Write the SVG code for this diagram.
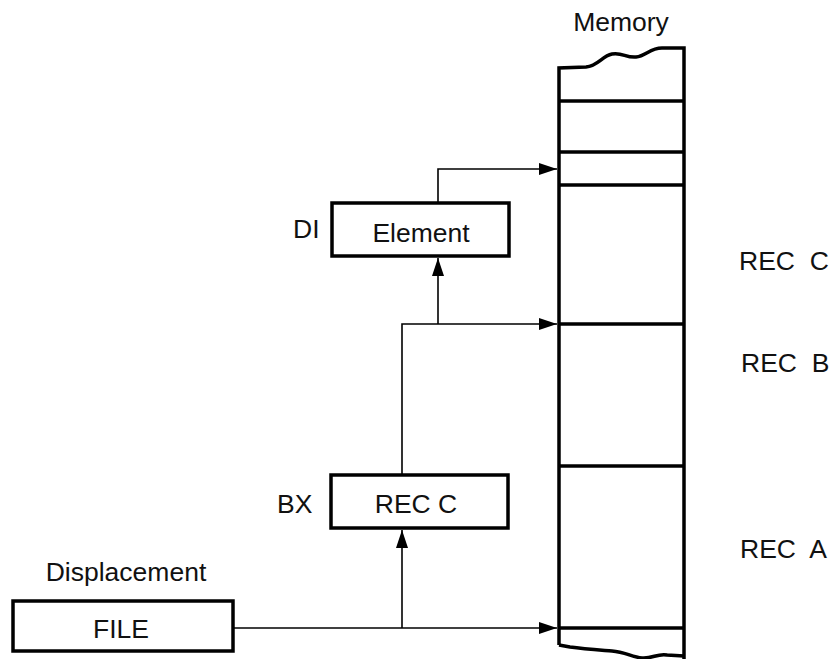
<svg xmlns="http://www.w3.org/2000/svg" width="836" height="659" viewBox="0 0 836 659">
<style>
text{font-family:"Liberation Sans",Arial,sans-serif;font-size:26.5px;fill:#111}
.pre{white-space:pre}
.box{fill:#fff;stroke:#000;stroke-width:3.5}
.mem{fill:none;stroke:#000;stroke-width:3.5}
.conn{fill:none;stroke:#000;stroke-width:1.6}
</style>
<defs>
<marker id="ah" markerUnits="userSpaceOnUse" markerWidth="20" markerHeight="14" refX="18" refY="6" orient="auto">
<path d="M0,0 L18,6 L0,12 Z" fill="#000"/>
</marker>
</defs>
<g id="memory">
<text x="621" y="31" text-anchor="middle">Memory</text>
<path class="mem" d="M559,645 L559,68 L586,67 C598,66 602,56 612,54 C622,52 626,58 636,57 C646,56 650,48 662,48 L684,48 L684,659"/>
<path class="mem" d="M559,645 L570,647 C585,649 600,650 612,651 C625,652 632,657 642,658 C652,659 658,653 667,655 L684,656"/>
<line class="mem" x1="559" y1="101" x2="684" y2="101"/>
<line class="mem" x1="559" y1="152" x2="684" y2="152"/>
<line class="mem" x1="559" y1="185" x2="684" y2="185"/>
<line class="mem" x1="559" y1="324" x2="684" y2="324"/>
<line class="mem" x1="559" y1="466" x2="684" y2="466"/>
<line class="mem" x1="559" y1="628" x2="684" y2="628"/>
<text class="pre" xml:space="preserve" x="739" y="270">REC  C</text>
<text class="pre" xml:space="preserve" x="741" y="372">REC  B</text>
<text class="pre" xml:space="preserve" x="740" y="558">REC  A</text>
</g>
<g id="element">
<rect class="box" x="332" y="203" width="177" height="53"/>
<text x="421" y="242" text-anchor="middle">Element</text>
<text x="293" y="238">DI</text>
</g>
<g id="recc">
<rect class="box" x="331" y="475" width="177" height="53"/>
<text x="416" y="513" text-anchor="middle">REC C</text>
<text x="277" y="513">BX</text>
</g>
<g id="file">
<rect class="box" x="13" y="601" width="220" height="50"/>
<text x="121" y="638" text-anchor="middle">FILE</text>
<text x="126" y="581" text-anchor="middle">Displacement</text>
</g>
<g id="connectors">
<path class="conn" d="M438,203 L438,169 L557,169" marker-end="url(#ah)"/>
<path class="conn" d="M402,475 L402,324 L557,324" marker-end="url(#ah)"/>
<path class="conn" d="M438,324 L438,258" marker-end="url(#ah)"/>
<path class="conn" d="M233,628 L557,628" marker-end="url(#ah)"/>
<path class="conn" d="M402,628 L402,530" marker-end="url(#ah)"/>
</g>
</svg>
